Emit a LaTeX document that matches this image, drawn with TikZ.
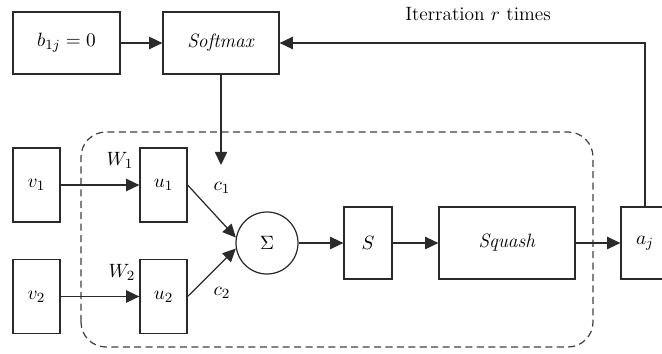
\documentclass[tikz,border=0pt]{standalone}
\usepackage{tikz}
\usetikzlibrary{arrows.meta, positioning}
\usepackage{amsmath}
\definecolor{linecol}{HTML}{2A2A2A}
\definecolor{dashcol}{HTML}{404040}
\tikzset{
  bnode/.style={rectangle, draw=linecol, line width=0.7pt, inner sep=1pt},
  cnode/.style={circle, draw=linecol, line width=0.7pt, minimum size=1.24cm, inner sep=1pt},
  lnode/.style={inner sep=1pt},
  arr/.style={-{Triangle[length=7.5pt,width=7pt]}, draw=linecol, line width=0.7pt},
}

\begin{document}
\begin{tikzpicture}[>=Stealth, font=\fontsize{11}{13}\selectfont]
  \useasboundingbox (0,0) rectangle (13.24,7.06);
  % top row
  \node[bnode, minimum width=2.14cm, minimum height=1.24cm] (B)  at (1.33, 6.2) {$b_{1j} = 0$};
  \node[bnode, minimum width=2.32cm, minimum height=1.24cm] (SM) at (4.42, 6.2) {\textit{Softmax}};
  \node[lnode] (IT) at (9.56, 6.78) {Iterration $r$ times};
  % inputs
  \node[bnode, minimum width=0.94cm, minimum height=1.48cm] (V1) at (0.73, 3.36) {$v_1$};
  \node[bnode, minimum width=0.94cm, minimum height=1.48cm] (V2) at (0.73, 1.13) {$v_2$};
  \node[bnode, minimum width=0.94cm, minimum height=1.48cm] (U1) at (3.27, 3.36) {$u_1$};
  \node[bnode, minimum width=0.94cm, minimum height=1.48cm] (U2) at (3.27, 1.13) {$u_2$};
  % sum and output chain
  \node[cnode] (SUM) at (5.34, 2.2) {$\Sigma$};
  \node[bnode, minimum width=0.96cm, minimum height=1.44cm] (S)  at (7.36, 2.2) {$S$};
  \node[bnode, minimum width=2.72cm, minimum height=1.44cm] (SQ) at (10.14, 2.2) {\textit{Squash}};
  \node[bnode, minimum width=0.96cm, minimum height=1.44cm] (AJ) at (12.9, 2.2) {$a_j$};
  % labels
  \node[lnode] (W1) at (2.40, 3.86) {$W_1$};
  \node[lnode] (W2) at (2.44, 1.62) {$W_2$};
  \node[lnode] (C1) at (4.44, 3.30) {$c_1$};
  \node[lnode] (C2) at (4.44, 1.20) {$c_2$};
  \coordinate (CT) at (4.42, 3.76);
  % dashed frame
  \draw[dashcol, line width=0.7pt, dash pattern=on 4pt off 2.5pt, rounded corners=0.5cm]
    (1.62, 0.12) rectangle (11.86, 4.42);
  % connectors
  \draw[arr] (B) -- (SM);
  \draw[arr] (SM) -- (CT);
  \draw[arr] (V1) -- (U1);
  \draw[arr] (V2) -- (U2);
  \draw[arr] (U1.east) -- (SUM.170);
  \draw[arr] (U2.east) -- (SUM.190);
  \draw[arr] (SUM) -- (S);
  \draw[arr] (S) -- (SQ);
  \draw[arr] (SQ) -- (AJ);
  \draw[arr] (AJ.north) |- (SM.east);
\end{tikzpicture}
\end{document}
